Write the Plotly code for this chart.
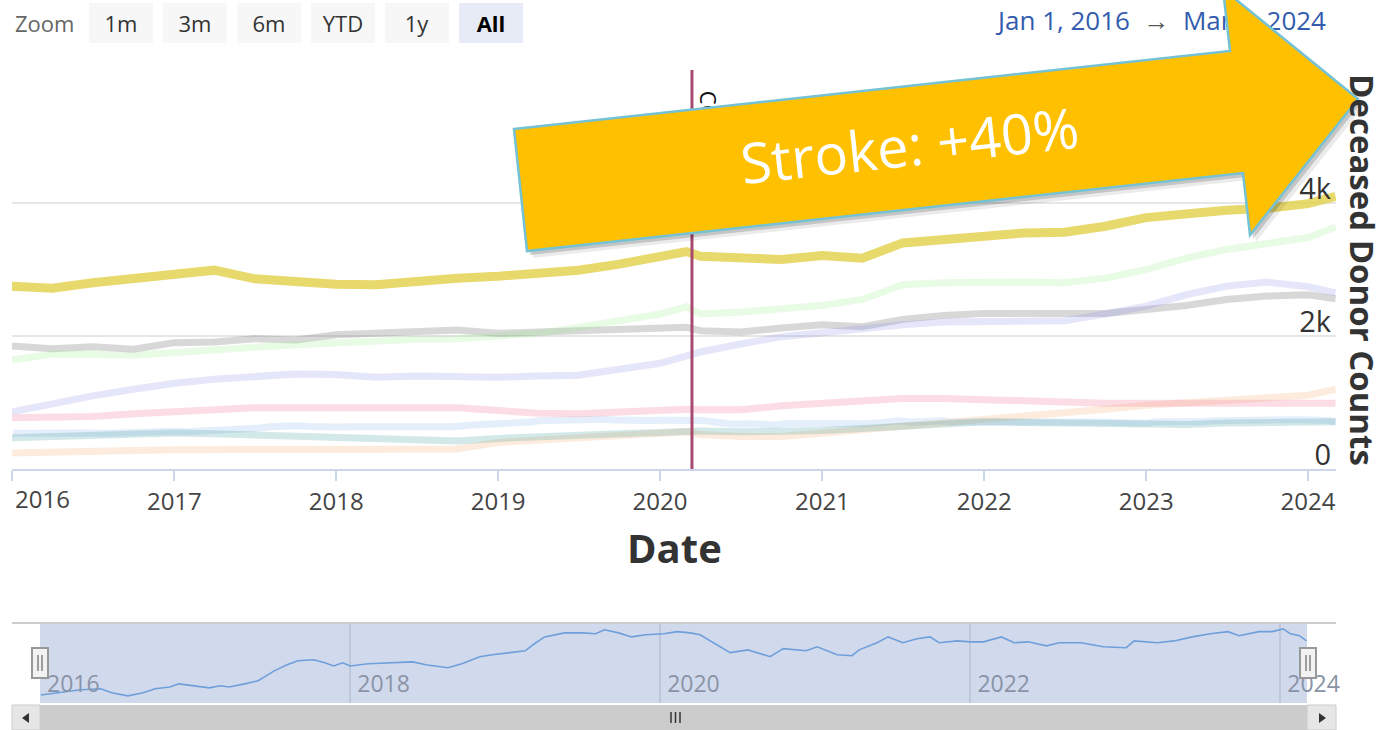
import plotly.graph_objects as go

# ---------------- data ----------------
dates = ["2016-01-01", "2016-04-01", "2016-07-01", "2016-10-01",
         "2017-01-01", "2017-04-01", "2017-07-01", "2017-10-01",
         "2018-01-01", "2018-04-01", "2018-07-01", "2018-10-01",
         "2019-01-01", "2019-04-01", "2019-07-01", "2019-10-01",
         "2020-01-01", "2020-03-01", "2020-04-01", "2020-07-01", "2020-10-01",
         "2021-01-01", "2021-04-01", "2021-07-01", "2021-10-01",
         "2022-01-01", "2022-04-01", "2022-07-01", "2022-10-01",
         "2023-01-01", "2023-04-01", "2023-07-01", "2023-10-01",
         "2024-01-01", "2024-03-03"]

stroke = [2750, 2720, 2800, 2860, 2930, 2990, 2860, 2810, 2780, 2770, 2830, 2870,
          2900, 2930, 2990, 3080, 3190, 3270, 3200, 3170, 3150, 3210, 3170, 3400,
          3450, 3490, 3550, 3560, 3650, 3780, 3850, 3890, 3920, 3990, 4100]
series_grey = [1850, 1810, 1840, 1800, 1900, 1910, 1960, 1940, 2020, 2040, 2070, 2090,
               2040, 2060, 2060, 2090, 2110, 2130, 2080, 2060, 2120, 2170, 2140, 2250,
               2310, 2340, 2340, 2330, 2340, 2400, 2460, 2550, 2600, 2620, 2560]
series_green = [1640, 1730, 1720, 1710, 1750, 1780, 1830, 1870, 1900, 1920, 1950, 1960,
                2000, 2040, 2130, 2220, 2330, 2440, 2330, 2360, 2400, 2460, 2550, 2770,
                2800, 2810, 2810, 2800, 2870, 3000, 3170, 3300, 3400, 3480, 3640]
series_peach = [240, 260, 270, 280, 290, 290, 300, 300, 300, 300, 290, 300,
                400, 430, 470, 500, 530, 560, 520, 490, 490, 540, 590, 630,
                680, 740, 790, 850, 900, 960, 1000, 1040, 1070, 1110, 1200]
series_lavender = [860, 990, 1100, 1200, 1290, 1350, 1400, 1430, 1420, 1380, 1400, 1390,
                   1380, 1400, 1410, 1500, 1590, 1700, 1760, 1880, 1990, 2050, 2120, 2170,
                   2210, 2210, 2210, 2230, 2330, 2450, 2620, 2750, 2810, 2740, 2650]
series_pink = [770, 780, 790, 830, 860, 890, 920, 920, 920, 920, 920, 920,
               880, 840, 830, 860, 880, 900, 890, 890, 950, 990, 1020, 1060,
               1060, 1040, 1020, 990, 990, 990, 990, 990, 1000, 990, 990]
series_teal = [470, 490, 510, 530, 540, 530, 510, 480, 470, 440, 420, 420,
               460, 490, 510, 530, 550, 570, 570, 560, 560, 580, 610, 640,
               680, 710, 700, 690, 690, 660, 670, 690, 700, 710, 710]

# first series (light blue) - also shown in the navigator
blue_dates = ["2016-01-03", "2016-02-12", "2016-04-06", "2016-05-23", "2016-06-18", "2016-07-26",
              "2016-08-31", "2016-09-28", "2016-11-02", "2016-11-23", "2016-12-26", "2017-02-03",
              "2017-03-01", "2017-03-22", "2017-04-27", "2017-05-29", "2017-07-06", "2017-08-05",
              "2017-08-31", "2017-10-07", "2017-11-02", "2017-11-23", "2017-12-14", "2018-01-01",
              "2018-02-12", "2018-04-04", "2018-05-28", "2018-06-28", "2018-07-24", "2018-08-19",
              "2018-09-21", "2018-11-02", "2018-12-02", "2019-01-15", "2019-02-17", "2019-03-14",
              "2019-04-04", "2019-05-21", "2019-07-02", "2019-08-02", "2019-08-23", "2019-09-25",
              "2019-10-26", "2019-11-28", "2020-01-10", "2020-02-10", "2020-03-12", "2020-04-04",
              "2020-04-23", "2020-06-14", "2020-07-26", "2020-08-16", "2020-09-16", "2020-10-17",
              "2020-12-10", "2021-01-05", "2021-02-21", "2021-03-28", "2021-04-14", "2021-05-26",
              "2021-06-21", "2021-07-26", "2021-08-28", "2021-09-28", "2021-10-19", "2021-12-01",
              "2022-01-01", "2022-02-01", "2022-03-15", "2022-04-14", "2022-05-17", "2022-06-29",
              "2022-07-29", "2022-09-19", "2022-11-10", "2023-01-03", "2023-01-22", "2023-03-17",
              "2023-04-26", "2023-06-08", "2023-07-20", "2023-08-31", "2023-09-26", "2023-11-12",
              "2023-12-13", "2024-01-08", "2024-01-25", "2024-02-15", "2024-03-03"]
series_blue = [536, 543, 553, 556, 543, 533, 543, 556, 562, 572, 566, 559,
               566, 562, 572, 582, 614, 634, 647, 650, 640, 630, 640, 630,
               637, 640, 643, 634, 630, 624, 637, 660, 666, 673, 679, 705,
               724, 737, 737, 734, 747, 737, 724, 731, 734, 741, 737, 731,
               715, 673, 682, 673, 660, 686, 679, 692, 666, 663, 682, 705,
               724, 705, 718, 724, 705, 711, 708, 708, 724, 705, 708, 695,
               705, 705, 692, 689, 711, 705, 711, 724, 734, 741, 728, 741,
               741, 750, 734, 728, 711]

year_ticks = ["2016-01-01", "2017-01-01", "2018-01-01", "2019-01-01", "2020-01-01",
              "2021-01-01", "2022-01-01", "2023-01-01", "2024-01-01"]
year_labels = ["2016", "2017", "2018", "2019", "2020", "2021", "2022", "2023", "2024"]
nav_ticks = ["2016-01-01", "2018-01-01", "2020-01-01", "2022-01-01", "2024-01-01"]
nav_labels = ["2016", "2018", "2020", "2022", "2024"]
y_ticks = [0, 2000, 4000, 6000]
y_labels = ["0", "2k", "4k", ""]          # last label not shown
range_start, range_end = "2016-01-01", "2024-03-04"
nav_y_range = [510, 769]
covid_date = "2020-03-13"
covid_label = "COVID-19"
zoom_buttons = ["1m", "3m", "6m", "YTD", "1y", "All"]
range_text_from, range_text_to = "Jan 1, 2016", "Mar 3, 2024"
callout_text = "Stroke: +40%"

# ---------------- helpers (layout in pixels) ----------------
W, H = 1384, 730
FONT = "Open Sans"


def px(x):
    return x / W


def py(y):
    return 1 - y / H


def path(points):
    return "M " + " L ".join(f"{px(x):.5f},{py(y):.5f}" for x, y in points) + " Z"


fig = go.Figure()

faded = [
    ("Series 1", blue_dates, series_blue, "#7cb5ec"),
    ("Series 2", dates, series_grey, "#434348"),
    ("Series 3", dates, series_green, "#90ed7d"),
    ("Series 4", dates, series_peach, "#f7a35c"),
    ("Series 5", dates, series_lavender, "#8085e9"),
    ("Series 6", dates, series_pink, "#f15c80"),
    ("Series 8", dates, series_teal, "#2b908f"),
]
for name, xs, ys, col in faded:
    fig.add_trace(go.Scatter(x=xs, y=ys, name=name, mode="lines",
                             line=dict(color=col, width=7), opacity=0.2,
                             xaxis="x", yaxis="y", showlegend=False))
fig.add_trace(go.Scatter(x=dates, y=stroke, name="Stroke", mode="lines",
                         line=dict(color="#e4d354", width=9), opacity=0.85,
                         xaxis="x", yaxis="y", showlegend=False))
# navigator series
fig.add_trace(go.Scatter(x=blue_dates, y=series_blue, name="Series 1 (navigator)",
                         mode="lines", line=dict(color="#6f9fdb", width=1.6),
                         xaxis="x2", yaxis="y2", showlegend=False, hoverinfo="skip"))

shapes = []
# navigator mask
shapes.append(dict(type="rect", xref="x2", yref="y2", x0=range_start, x1=range_end,
                   y0=nav_y_range[0], y1=nav_y_range[1],
                   fillcolor="rgba(102,133,194,0.3)", line=dict(width=0), layer="between"))
# navigator outline
shapes.append(dict(type="line", xref="paper", yref="paper", x0=px(12), x1=px(1336),
                   y0=py(623), y1=py(623), line=dict(color="#cccccc", width=2)))
# scrollbar track, buttons, thumb
shapes.append(dict(type="rect", xref="paper", yref="paper", x0=px(12), x1=px(1336),
                   y0=py(730), y1=py(705), fillcolor="#f2f2f2", line=dict(width=0)))
shapes.append(dict(type="rect", xref="paper", yref="paper", x0=px(40), x1=px(1307),
                   y0=py(730), y1=py(705), fillcolor="#cccccc", line=dict(width=0)))
for bx0, bx1 in [(12, 40), (1307, 1336)]:
    shapes.append(dict(type="rect", xref="paper", yref="paper", x0=px(bx0), x1=px(bx1),
                       y0=py(730), y1=py(705), fillcolor="#e6e6e6",
                       line=dict(color="#cccccc", width=1)))
shapes.append(dict(type="path", xref="paper", yref="paper",
                   path=path([(22, 718), (29, 713), (29, 723)]), fillcolor="#333333",
                   line=dict(width=0)))
shapes.append(dict(type="path", xref="paper", yref="paper",
                   path=path([(1326, 718), (1319, 713), (1319, 723)]), fillcolor="#333333",
                   line=dict(width=0)))
for rx in (671, 675.5, 680):
    shapes.append(dict(type="line", xref="paper", yref="paper", x0=px(rx), x1=px(rx),
                       y0=py(712), y1=py(723), line=dict(color="#333333", width=1.5)))
# navigator handles
for hx in (40, 1308):
    shapes.append(dict(type="rect", xref="paper", yref="paper", x0=px(hx - 8), x1=px(hx + 8),
                       y0=py(678), y1=py(648), fillcolor="#f2f2f2",
                       line=dict(color="#999999", width=2)))
    for dx in (-2, 2):
        shapes.append(dict(type="line", xref="paper", yref="paper", x0=px(hx + dx),
                           x1=px(hx + dx), y0=py(655), y1=py(671),
                           line=dict(color="#666666", width=1.2)))
# COVID plot line
shapes.append(dict(type="line", xref="x", yref="paper", x0=covid_date, x1=covid_date,
                   y0=py(469), y1=py(70), line=dict(color="#a8496f", width=3)))
# its label (carried by an invisible guide so it sits below the top)
shapes.append(dict(type="line", xref="x", yref="paper", x0=covid_date, x1=covid_date,
                   y0=py(469), y1=py(146), line=dict(color="rgba(0,0,0,0)", width=1),
                   label=dict(text=covid_label, textangle=90, textposition="end",
                              font=dict(family=FONT, size=22, color="#111111"),
                              padding=6)))
# date range (under the arrow)
NB = "\u00a0"
shapes.append(dict(type="rect", xref="paper", yref="paper", x0=px(900), x1=px(1329),
                   y0=py(42), y1=py(2), line=dict(width=0), fillcolor="rgba(0,0,0,0)",
                   label=dict(text=f"{range_text_from}{NB * 2}<span style='color:#555'>→</span>{NB * 2}{range_text_to}",
                              textposition="middle right", padding=0,
                              font=dict(family=FONT, size=26, color="#335cad"))))
# callout arrow
arrow_pts = [(514, 129), (1230, 51), (1223, -11), (1358, 99), (1250, 235), (1243, 173), (527, 251)]
shapes.append(dict(type="path", xref="paper", yref="paper",
                   path=path([(x + 6, y + 7) for x, y in arrow_pts]),
                   fillcolor="rgba(0,0,0,0.08)", line=dict(width=0)))
shapes.append(dict(type="path", xref="paper", yref="paper",
                   path=path([(x + 3, y + 4) for x, y in arrow_pts]),
                   fillcolor="rgba(0,0,0,0.16)", line=dict(width=0)))
shapes.append(dict(type="path", xref="paper", yref="paper", path=path(arrow_pts),
                   fillcolor="#ffc000", line=dict(color="#74c2d4", width=2.5)))
shapes.append(dict(type="rect", xref="paper", yref="paper", x0=px(760), x1=px(1060),
                   y0=py(176), y1=py(120), line=dict(width=0), fillcolor="rgba(0,0,0,0)",
                   label=dict(text=callout_text, textposition="middle center", textangle=-6.2,
                              font=dict(family=FONT, size=56, color="white"))))

annotations = []
annotations.append(dict(text="Zoom", xref="paper", yref="paper", x=px(13), y=py(23),
                        xanchor="left", yanchor="middle", showarrow=False,
                        font=dict(family=FONT, size=22, color="#666666")))
for i, b in enumerate(zoom_buttons):
    active = b == "All"
    annotations.append(dict(text=f"<b>{b}</b>" if active else b, xref="paper", yref="paper",
                            x=px(89 + 74 * i), y=py(3), xanchor="left", yanchor="top",
                            width=64, height=40, borderpad=0, borderwidth=0, showarrow=False,
                            bgcolor="#e6ebf5" if active else "#f7f7f7", align="center",
                            valign="middle",
                            font=dict(family=FONT, size=22, color="#000000" if active else "#333333")))
annotations.append(dict(text=year_labels[0], xref="x", yref="paper", x=year_ticks[0], y=py(498),
                        xanchor="left", yanchor="middle", xshift=1, showarrow=False,
                        font=dict(family=FONT, size=24, color="#444444")))
annotations.append(dict(text="<b>Date</b>", xref="paper", yref="paper", x=px(674), y=py(547),
                        xanchor="center", yanchor="middle", showarrow=False,
                        font=dict(family=FONT, size=40, color="#333333")))
annotations.append(dict(text="<b>Deceased Donor Counts</b>", xref="paper", yref="paper",
                        x=px(1362), y=py(270), xanchor="center", yanchor="middle",
                        textangle=90, showarrow=False,
                        font=dict(family=FONT, size=33, color="#333333")))

fig.update_layout(
    width=W, height=H, margin=dict(l=0, r=0, t=0, b=0, pad=0),
    template="none", paper_bgcolor="white", plot_bgcolor="rgba(0,0,0,0)",
    showlegend=False, font=dict(family=FONT),
    xaxis=dict(domain=[px(12), px(1336)], anchor="y", type="date",
               range=[range_start, range_end], tickvals=year_ticks,
               ticktext=[""] + year_labels[1:], showgrid=False, zeroline=False,
               showline=True, linecolor="#ccd6eb", linewidth=2,
               ticks="outside", ticklen=10, tickwidth=2, tickcolor="#ccd6eb",
               ticklabeloverflow="allow",
               tickfont=dict(family=FONT, size=24, color="#444444")),
    yaxis=dict(domain=[py(469), py(70)], anchor="x", side="right", range=[0, 6000],
               tickvals=y_ticks, ticktext=y_labels, showgrid=True, gridcolor="#e6e6e6",
               gridwidth=2, zeroline=False, showline=False, ticks="",
               ticklabelposition="inside", ticklabelshift=-14, ticklabelstandoff=2,
               ticklabeloverflow="allow",
               tickfont=dict(family=FONT, size=29, color="#333333")),
    xaxis2=dict(domain=[px(40), px(1307)], anchor="y2", type="date",
                range=[range_start, range_end], tickvals=nav_ticks, ticktext=nav_labels,
                showgrid=True, gridcolor="#e6e6e6", gridwidth=2, zeroline=False,
                showline=False, ticks="", ticklabelposition="inside right",
                ticklabeloverflow="allow", ticklabelshift=7,
                tickfont=dict(family=FONT, size=23, color="#8a93a5")),
    yaxis2=dict(domain=[py(703), py(623)], anchor="x2", range=nav_y_range, visible=False),
    shapes=shapes, annotations=annotations,
)

fig.write_html("out.html", config={"displayModeBar": False},
               post_script="document.body.style.margin='0';")
